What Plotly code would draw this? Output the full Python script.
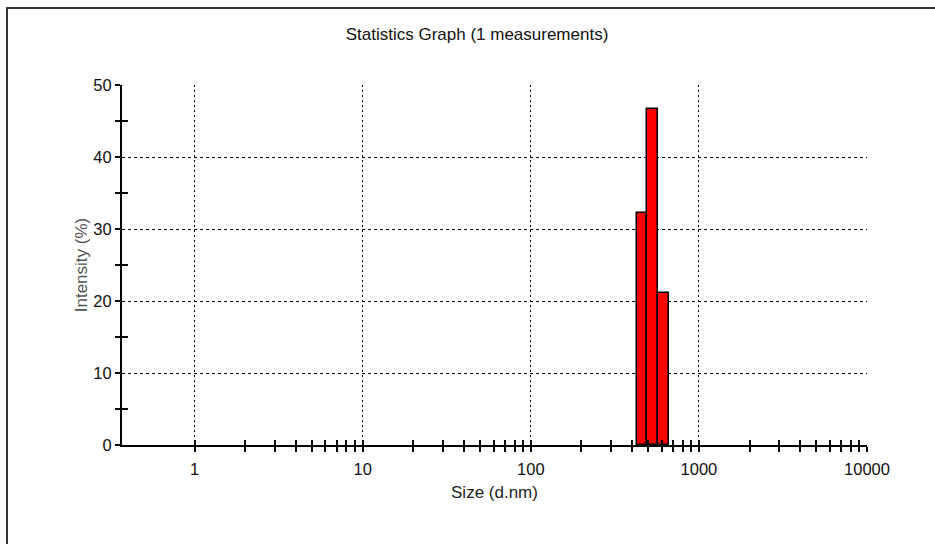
import math
import plotly.graph_objects as go

# ---- data ----
sizes = [458.7, 531.2, 615.1]          # bin centres, d.nm
intensity = [32.2, 46.7, 21.1]         # Intensity (%)

x_major_vals = [1, 10, 100, 1000, 10000]
x_major_text = ["1", "10", "100", "1000", "10000"]
x_minor_vals = [m * d for d in [1, 10, 100, 1000] for m in range(2, 10)]
y_major_vals = [0, 10, 20, 30, 40, 50]
y_minor_vals = [5, 15, 25, 35, 45]

title_text = "Statistics Graph (1 measurements)"
x_title = "Size (d.nm)"
y_title = "Intensity (%)"

# log-spaced bin edges from bin centres
step = math.log10(sizes[1] / sizes[0])
lo = [s * 10 ** (-step / 2) for s in sizes]
hi = [s * 10 ** (step / 2) for s in sizes]

FONT = "Liberation Sans, Arial, sans-serif"
xrange_log = [math.log10(0.37), 4.0]
yrange = [0, 50]

fig = go.Figure()
fig.add_trace(go.Bar(
    x=sizes, y=intensity,
    offset=[l - s for l, s in zip(lo, sizes)],
    width=[h - l for h, l in zip(hi, lo)],
    marker=dict(color="#FF0000", line=dict(color="#000000", width=1.5)),
    hoverinfo="x+y",
))
# invisible helper so the overlay axes (crossing ticks) are drawn
fig.add_trace(go.Scatter(x=[1], y=[0], xaxis="x2", yaxis="y2", mode="markers",
                         marker=dict(opacity=0), hoverinfo="skip", showlegend=False))

fig.update_layout(
    width=935, height=544,
    margin=dict(l=122, r=68, t=85, b=99),
    paper_bgcolor="white", plot_bgcolor="white",
    showlegend=False, bargap=0,
    font=dict(family=FONT, size=16.5, color="#111111"),
    title=dict(text=title_text, x=477 / 935, xref="container", xanchor="center",
               y=1 - 34 / 544, yref="container", yanchor="middle",
               font=dict(family=FONT, size=17, color="#111111")),
    xaxis=dict(
        type="log", range=xrange_log,
        tickvals=x_major_vals, ticktext=x_major_text,
        ticks="outside", ticklen=5, tickwidth=1.5, tickcolor="#000",
        ticklabelstandoff=3,
        showline=True, linecolor="#000", linewidth=2,
        showgrid=True, gridcolor="#000", gridwidth=1, griddash="2px,3px",
        zeroline=False,
        minor=dict(tickvals=x_minor_vals, ticks="outside", ticklen=5,
                   tickwidth=1.5, tickcolor="#000", showgrid=False),
        title=dict(text=x_title, standoff=9, font=dict(size=17, color="#222")),
        tickfont=dict(size=16.5, color="#111"),
    ),
    xaxis2=dict(
        type="log", range=xrange_log, overlaying="x", anchor="y", side="bottom",
        tickvals=x_major_vals + x_minor_vals, ticks="inside", ticklen=5,
        tickwidth=1.5, tickcolor="#000",
        showticklabels=False, showgrid=False, showline=False, zeroline=False,
    ),
    yaxis=dict(
        range=yrange, tickvals=y_major_vals,
        ticks="outside", ticklen=5, tickwidth=1.5, tickcolor="#000",
        showline=True, linecolor="#000", linewidth=2,
        showgrid=True, gridcolor="#000", gridwidth=1, griddash="3px,3px",
        zeroline=False,
        minor=dict(tickvals=y_minor_vals, ticks="outside", ticklen=5,
                   tickwidth=1.5, tickcolor="#000", showgrid=False),
        title=dict(text=y_title, standoff=1, font=dict(size=17, color="#555")),
        tickfont=dict(size=16.5, color="#111"),
    ),
    yaxis2=dict(
        range=yrange, overlaying="y", anchor="x", side="left",
        tickvals=y_minor_vals, ticks="inside", ticklen=6, tickwidth=1.5,
        tickcolor="#000",
        showticklabels=False, showgrid=False, showline=False, zeroline=False,
    ),
    shapes=[dict(
        type="rect", xref="paper", yref="paper",
        x0=(7 - 122) / 745, x1=(950 - 122) / 745,
        y0=(445 - 560) / 360, y1=(445 - 8) / 360,
        line=dict(color="#333333", width=2), fillcolor="rgba(0,0,0,0)",
        layer="below",
    )],
)

fig.write_html(
    "out.html",
    config={"displayModeBar": False},
    post_script="document.body.style.margin='0px';document.body.style.overflow='hidden';",
)
